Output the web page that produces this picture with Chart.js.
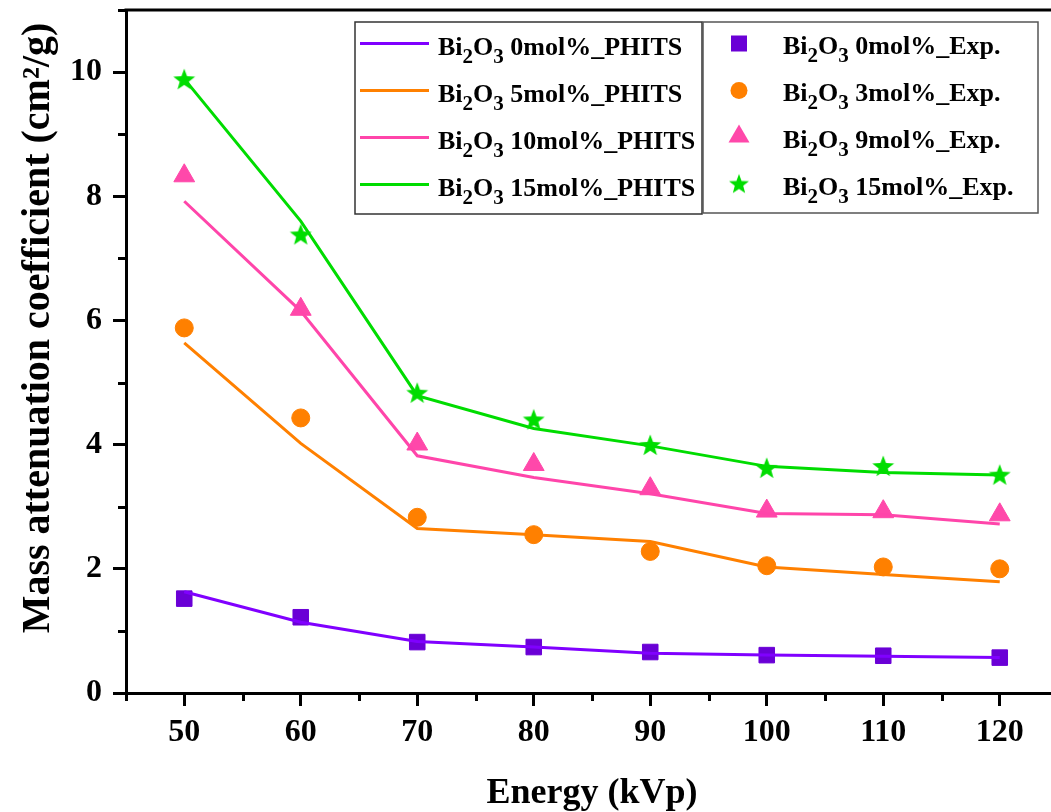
<!DOCTYPE html>
<html>
<head>
<meta charset="utf-8">
<script src="https://cdn.jsdelivr.net/npm/chart.js@4/dist/chart.umd.min.js"></script>
<style>
html,body{margin:0;padding:0;overflow:hidden;background:#fff;}
#wrap{width:1058px;height:812px;}
</style>
</head>
<body>
<div id="wrap"><canvas id="c" width="1058" height="812"></canvas></div>
<script>
// ---------- data ----------
const energies = [50, 60, 70, 80, 90, 100, 110, 120];

const phits0  = [1.63, 1.14, 0.83, 0.74, 0.64, 0.61, 0.59, 0.57];
const phits5  = [5.64, 4.02, 2.65, 2.55, 2.44, 2.03, 1.91, 1.79];
const phits10 = [7.92, 6.15, 3.82, 3.47, 3.21, 2.89, 2.87, 2.72];
const phits15 = [9.89, 7.60, 4.79, 4.26, 3.98, 3.65, 3.55, 3.51];

const exp0  = [1.52, 1.22, 0.82, 0.74, 0.66, 0.61, 0.60, 0.57];
const exp3  = [5.88, 4.43, 2.83, 2.55, 2.28, 2.05, 2.03, 2.00];
const exp9  = [8.33, 6.18, 4.01, 3.68, 3.29, 2.93, 2.92, 2.87];
const exp15 = [9.87, 7.37, 4.82, 4.39, 3.98, 3.61, 3.64, 3.50];

const phitsLabels = ['Bi2O3 0mol%_PHITS', 'Bi2O3 5mol%_PHITS', 'Bi2O3 10mol%_PHITS', 'Bi2O3 15mol%_PHITS'];
const expLabels   = ['Bi2O3 0mol%_Exp.', 'Bi2O3 3mol%_Exp.', 'Bi2O3 9mol%_Exp.', 'Bi2O3 15mol%_Exp.'];

const xTickValues = [50, 60, 70, 80, 90, 100, 110, 120];
const xTickLabels = ['50', '60', '70', '80', '90', '100', '110', '120'];
const yTickValues = [0, 2, 4, 6, 8, 10];
const yTickLabels = ['0', '2', '4', '6', '8', '10'];
const xTitle = 'Energy (kVp)';
const yTitle = 'Mass attenuation coefficient (cm\u00B2/g)';

// ---------- styles ----------
const lineColors = ['#8000ff', '#ff8000', '#ff45aa', '#00dc00'];
const markerColors = ['#6a00d6', '#ff8000', '#ff48aa', '#00dd00'];

function makeStar(size, outer, inner, color) {
  const c = document.createElement('canvas');
  c.width = size; c.height = size;
  const g = c.getContext('2d');
  g.fillStyle = color;
  g.beginPath();
  for (let i = 0; i < 10; i++) {
    const r = i % 2 === 0 ? outer : inner;
    const a = -Math.PI / 2 + i * Math.PI / 5;
    const px = size / 2 + r * Math.cos(a), py = size / 2 + r * Math.sin(a);
    if (i === 0) g.moveTo(px, py); else g.lineTo(px, py);
  }
  g.closePath(); g.fill();
  return c;
}
const starImg = makeStar(26, 11.5, 4.8, markerColors[3]);
const starLegend = makeStar(24, 10.5, 4.4, markerColors[3]);

const toXY = arr => arr.map((v, i) => ({x: energies[i], y: v}));

const phitsSeries = [phits0, phits5, phits10, phits15];
const expSeries = [exp0, exp3, exp9, exp15];
const markerStyles = ['rect', 'circle', 'triangle', starImg];
const markerRadius = [11, 9, 12, 12];

const datasets = [];
phitsSeries.forEach((s, i) => datasets.push({
  label: phitsLabels[i], data: toXY(s), type: 'line',
  borderColor: lineColors[i], backgroundColor: lineColors[i],
  borderWidth: 3, pointRadius: 0, tension: 0, fill: false, kind: 'line'
}));
expSeries.forEach((s, i) => datasets.push({
  label: expLabels[i], data: toXY(s), type: 'line', showLine: false,
  pointStyle: markerStyles[i], pointRadius: markerRadius[i],
  pointBackgroundColor: markerColors[i], pointBorderColor: markerColors[i],
  pointBorderWidth: 1, borderColor: markerColors[i], kind: 'marker', idx: i
}));

const SERIF = '"Liberation Serif", "Times New Roman", serif';

// ---------- plugins ----------
const framePlugin = {
  id: 'frame',
  afterDraw(chart) {
    const {ctx, chartArea: a, scales: {x, y}} = chart;
    ctx.save();
    ctx.strokeStyle = '#000'; ctx.lineWidth = 3; ctx.lineCap = 'butt';
    ctx.beginPath(); ctx.moveTo(a.left - 1.5, a.top); ctx.lineTo(chart.width, a.top); ctx.stroke();
    for (let v = 45; v <= 125; v += 10) {
      const px = Math.round(x.getPixelForValue(v)) + 0.5;
      ctx.beginPath(); ctx.moveTo(px, a.bottom); ctx.lineTo(px, a.bottom + 8); ctx.stroke();
    }
    for (let v = 1; v <= 11; v += 2) {
      const py = Math.round(y.getPixelForValue(v)) + 0.5;
      ctx.beginPath(); ctx.moveTo(a.left, py); ctx.lineTo(a.left - 8, py); ctx.stroke();
    }
    ctx.fillStyle = '#000';
    ctx.font = 'bold 36px ' + SERIF;
    ctx.textAlign = 'center'; ctx.textBaseline = 'alphabetic';
    ctx.fillText(xTitle, (a.left + a.right) / 2, 803);
    ctx.save();
    ctx.translate(49, 328);
    ctx.rotate(-Math.PI / 2);
    ctx.font = 'bold 40px ' + SERIF;
    ctx.fillText(yTitle, 0, 0);
    ctx.restore();
    ctx.restore();
  }
};

function drawRich(ctx, label, x, y) {
  const sp = label.indexOf(' ');
  const formula = label.slice(0, sp), rest = label.slice(sp);
  const parts = formula.match(/[A-Za-z]+|\d+/g);
  const MAIN = 'bold 26px ' + SERIF, SUB = 'bold 21px ' + SERIF;
  let cx = x;
  ctx.textAlign = 'left'; ctx.textBaseline = 'alphabetic';
  for (const p of parts) {
    if (/^\d+$/.test(p)) { ctx.font = SUB; ctx.fillText(p, cx, y + 8); cx += ctx.measureText(p).width; }
    else { ctx.font = MAIN; ctx.fillText(p, cx, y); cx += ctx.measureText(p).width; }
  }
  ctx.font = MAIN; ctx.fillText(rest, cx, y);
}

const legendPlugin = {
  id: 'dualLegend',
  afterDraw(chart) {
    const {ctx} = chart;
    const ds = chart.data.datasets;
    const lines = ds.filter(d => d.kind === 'line');
    const marks = ds.filter(d => d.kind === 'marker');
    ctx.save();
    ctx.fillStyle = '#fff';
    ctx.fillRect(355, 22, 347, 192);
    ctx.fillRect(703, 22, 335, 191);
    ctx.strokeStyle = '#333'; ctx.lineWidth = 1.5;
    ctx.strokeRect(355, 22, 347, 192);
    ctx.strokeStyle = '#555';
    ctx.strokeRect(703, 22, 335, 191);
    const rowY = i => 43.5 + i * 47;
    lines.forEach((d, i) => {
      const yy = rowY(i);
      ctx.strokeStyle = d.borderColor; ctx.lineWidth = 3;
      ctx.beginPath(); ctx.moveTo(360, yy); ctx.lineTo(429, yy); ctx.stroke();
      ctx.fillStyle = '#000';
      drawRich(ctx, d.label, 438, yy + 11.5);
    });
    marks.forEach((d, i) => {
      const yy = rowY(i) - (i === 2 ? 2 : 0);
      const cx = 739;
      ctx.fillStyle = d.pointBackgroundColor;
      if (d.idx === 0) {
        ctx.fillRect(cx - 8, yy - 8, 16, 16);
      } else if (d.idx === 1) {
        ctx.beginPath(); ctx.arc(cx, yy, 8.5, 0, Math.PI * 2); ctx.fill();
      } else if (d.idx === 2) {
        ctx.beginPath();
        ctx.moveTo(cx, yy - 11); ctx.lineTo(cx + 10.5, yy + 7); ctx.lineTo(cx - 10.5, yy + 7);
        ctx.closePath(); ctx.fill();
      } else {
        ctx.drawImage(starLegend, cx - 12, yy - 12);
      }
      ctx.fillStyle = '#000';
      drawRich(ctx, d.label, 783, rowY(i) + 10.5);
    });
    ctx.restore();
  }
};

const bgPlugin = {
  id: 'bg',
  beforeDraw(chart) {
    const {ctx} = chart;
    ctx.save(); ctx.fillStyle = '#fff'; ctx.fillRect(0, 0, chart.width, chart.height); ctx.restore();
  }
};

new Chart(document.getElementById('c'), {
  type: 'line',
  data: {datasets},
  options: {
    responsive: false,
    animation: false,
    layout: {autoPadding: false, padding: {left: 0, top: 10, right: 0, bottom: 0}},
    plugins: {legend: {display: false}, tooltip: {enabled: false}},
    scales: {
      x: {
        type: 'linear', min: 45, max: 125,
        afterBuildTicks(s) { s.ticks = xTickValues.map(v => ({value: v})); },
        afterFit(s) { s.height = 119; s.paddingLeft = 0; s.paddingRight = 0; },
        ticks: {
          autoSkip: false, maxRotation: 0, padding: 8,
          color: '#000', font: {family: SERIF, size: 32, weight: 'bold'},
          callback: v => xTickLabels[xTickValues.indexOf(v)]
        },
        grid: {
          display: true, drawOnChartArea: false, drawTicks: true, tickLength: 13, tickWidth: 3, tickColor: '#000'
        },
        border: {display: true, color: '#000', width: 3}
      },
      y: {
        type: 'linear', min: 0, max: 11,
        afterBuildTicks(s) { s.ticks = yTickValues.map(v => ({value: v})); },
        afterFit(s) { s.width = 126; s.paddingTop = 0; s.paddingBottom = 0; },
        ticks: {
          autoSkip: false, padding: 11,
          color: '#000', font: {family: SERIF, size: 32, weight: 'bold'},
          callback: v => yTickLabels[yTickValues.indexOf(v)]
        },
        grid: {
          display: true, drawOnChartArea: false, drawTicks: true, tickLength: 13, tickWidth: 3, tickColor: '#000'
        },
        border: {display: true, color: '#000', width: 3}
      }
    }
  },
  plugins: [bgPlugin, framePlugin, legendPlugin]
});
</script>
</body>
</html>
